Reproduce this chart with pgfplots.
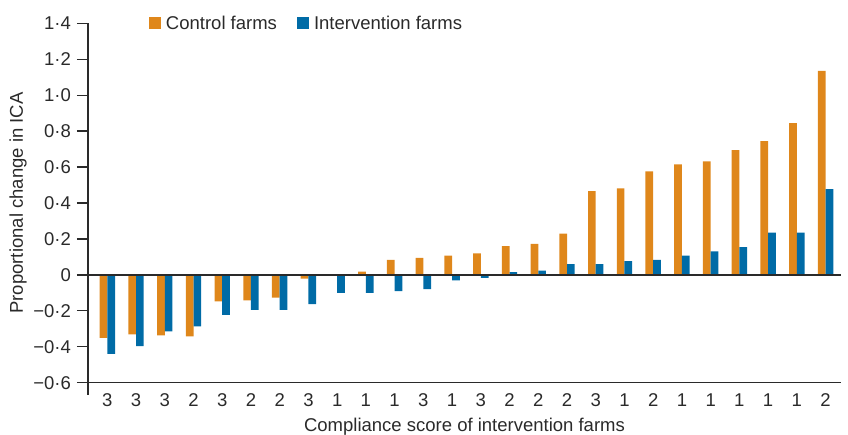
\documentclass[border=0pt]{standalone}
\usepackage{pgfplots}
\pgfplotsset{compat=1.18}
\usepackage{fontspec}
\setmainfont{Liberation Sans}
\definecolor{ctrl}{HTML}{DF871B}
\definecolor{intv}{HTML}{006BA6}
\definecolor{txt}{HTML}{2A2A2A}
\pgfplotstableread{
x c i
0 -0.351 -0.440
1 -0.331 -0.396
2 -0.336 -0.314
3 -0.342 -0.287
4 -0.147 -0.222
5 -0.142 -0.195
6 -0.126 -0.195
7 -0.021 -0.163
8 0.000 -0.100
9 0.018 -0.100
10 0.083 -0.090
11 0.095 -0.079
12 0.107 -0.030
13 0.119 -0.016
14 0.160 0.016
15 0.172 0.024
16 0.229 0.060
17 0.466 0.060
18 0.482 0.077
19 0.576 0.083
20 0.615 0.107
21 0.631 0.131
22 0.694 0.154
23 0.744 0.235
24 0.845 0.235
25 1.135 0.477
}\datatable
\begin{document}
\begin{tikzpicture}
\useasboundingbox (0pt,0pt) rectangle (848pt,434pt);
\begin{axis}[
  at={(88pt,51.3pt)}, anchor=south west,
  scale only axis, width=753pt, height=359.4pt,
  xmin=-0.672, xmax=25.537, ymin=-0.6, ymax=1.4,
  clip=false,
  axis x line*=bottom, axis y line*=left,
  axis line style={draw=txt, line width=1.3pt},
  tick align=outside,
  major tick length=11pt,
  xtick style={draw=none},
  ytick style={draw=txt, line width=1.3pt},
  xtick={0,...,25},
  xticklabels={3,3,3,2,3,2,2,3,1,1,1,3,1,3,2,2,2,3,1,2,1,1,1,1,1,2},
  ytick={-0.6,-0.4,-0.2,0,0.2,0.4,0.6,0.8,1.0,1.2,1.4},
  yticklabels={−0·6,−0·4,−0·2,0,0·2,0·4,0·6,0·8,1·0,1·2,1·4},
  tick label style={font=\fontsize{18.5}{22}\selectfont, text=txt},
  xticklabel style={inner sep=0pt, anchor=north},
  yticklabel style={inner sep=0pt, anchor=east, xshift=-6pt},
  legend image code/.code={\fill[#1] (0pt,-6pt) rectangle (12pt,6pt);},
  legend style={at={(rel axis cs:0.081,1.0)}, anchor=west, draw=none, fill=none,
    inner sep=0pt, outer sep=0pt, legend columns=2,
    font=\fontsize{18.5}{22}\selectfont, text=txt,
    nodes={inner sep=0pt},
    /tikz/every odd column/.append style={column sep=5pt},
    /tikz/every even column/.append style={column sep=20pt}},
  legend cell align=left,
]
\addplot[ybar, bar width=7.7pt, bar shift=-3.85pt, fill=ctrl, draw=none] table[x=x, y=c] {\datatable};
\addplot[ybar, bar width=7.7pt, bar shift=3.85pt, fill=intv, draw=none] table[x=x, y=i] {\datatable};
\legend{Control farms, Intervention farms}
\draw[txt, line width=1.3pt] (axis cs:-0.672,0) -- (axis cs:25.537,0);
\draw[txt, line width=1.3pt] (axis cs:-0.672,-0.6) -- (axis cs:-0.672,-0.6684);
\pgfplotsinvokeforeach{-0.6,-0.4,-0.2,0,0.2,0.4,0.6,0.8,1.0,1.2,1.4}{
  \draw[txt, line width=1.3pt] (axis cs:-0.672,#1) -- (axis cs:-1.055,#1);
}
\end{axis}
\node[rotate=90, text=txt, font=\fontsize{18.5}{22}\selectfont] at (18pt,231pt) {Proportional change in ICA};
\node[anchor=base, text=txt, font=\fontsize{18.5}{22}\selectfont] at (464.5pt,3pt) {Compliance score of intervention farms};
\end{tikzpicture}
\end{document}
